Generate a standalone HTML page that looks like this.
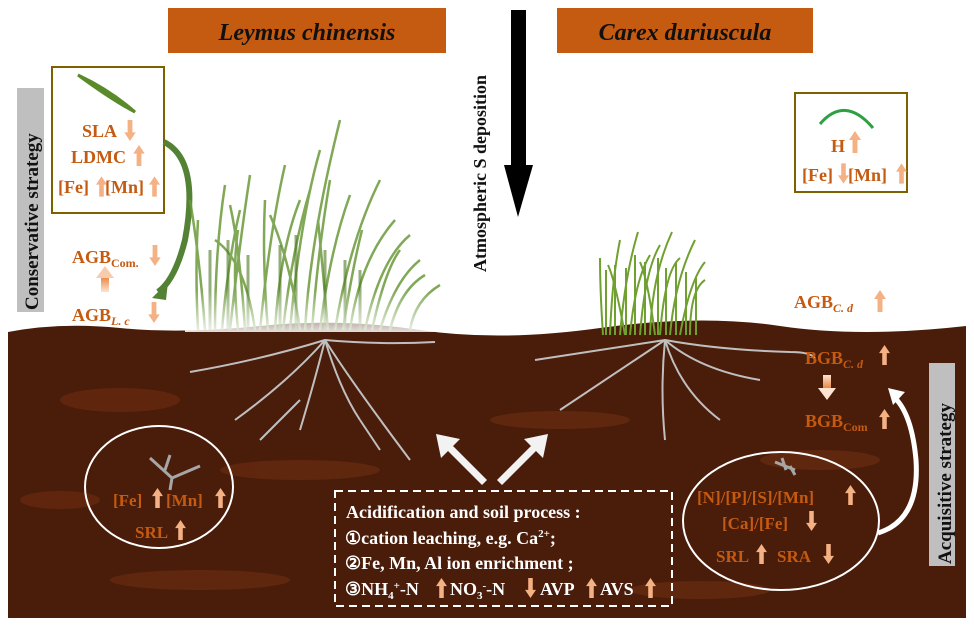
<!DOCTYPE html>
<html><head><meta charset="utf-8"><style>
body{margin:0;background:#fff;}
svg{display:block;font-family:"Liberation Serif",serif;font-weight:bold;}
.o{fill:#c55a11;}
</style></head><body>
<svg width="974" height="628" viewBox="0 0 974 628" xmlns="http://www.w3.org/2000/svg">
<defs>
<symbol id="up" viewBox="0 0 12 22"><path d="M6 0 L12 9 H8.5 V22 H3.5 V9 H0Z" fill="#f4b183"/></symbol>
<symbol id="dn" viewBox="0 0 12 22"><path d="M6 22 L12 13 H8.5 V0 H3.5 V13 H0Z" fill="#f4b183"/></symbol>
<linearGradient id="g1" x1="0" y1="0" x2="0" y2="1"><stop offset="0" stop-color="#fde3d2"/><stop offset="1" stop-color="#e8803a"/></linearGradient>
<linearGradient id="g2" x1="0" y1="0" x2="0" y2="1"><stop offset="0" stop-color="#e8803a"/><stop offset="1" stop-color="#fde3d2"/></linearGradient>
<linearGradient id="fog" x1="0" y1="0" x2="0" y2="1"><stop offset="0" stop-color="#fff" stop-opacity="0"/><stop offset="1" stop-color="#fff" stop-opacity="0.85"/></linearGradient>
</defs>
<!-- soil -->
<path d="M8 332 Q60 322 120 328 T260 326 T420 330 T600 328 T780 326 T966 326 V618 H8Z" fill="#4a1c0a"/>
<g fill="#6e2e10" opacity="0.6">
<ellipse cx="120" cy="400" rx="60" ry="12"/><ellipse cx="300" cy="470" rx="80" ry="10"/><ellipse cx="560" cy="420" rx="70" ry="9"/><ellipse cx="820" cy="460" rx="60" ry="10"/><ellipse cx="200" cy="580" rx="90" ry="10"/><ellipse cx="700" cy="590" rx="70" ry="9"/><ellipse cx="60" cy="500" rx="40" ry="9"/>
</g>
<!-- title boxes -->
<rect x="168" y="8" width="278" height="45" fill="#c55a11"/>
<text x="307" y="40" font-size="24" font-style="italic" text-anchor="middle" fill="#111">Leymus chinensis</text>
<rect x="557" y="8" width="256" height="45" fill="#c55a11"/>
<text x="685" y="40" font-size="24" font-style="italic" text-anchor="middle" fill="#111">Carex duriuscula</text>
<!-- deposition arrow -->
<rect x="511" y="10" width="15" height="156" fill="#000"/>
<path d="M504 165 H533 L518 217Z" fill="#000"/>
<text transform="translate(486,272) rotate(-90)" font-size="18" fill="#111">Atmospheric S deposition</text>
<!-- left strategy label -->
<rect x="17" y="88" width="27" height="224" fill="#bfbfbf"/>
<text transform="translate(38,310) rotate(-90)" font-size="19" fill="#111">Conservative strategy</text>
<!-- left box -->
<rect x="52" y="67" width="112" height="146" fill="#fff" stroke="#7f6000" stroke-width="2"/>
<path d="M78 75 Q110 90 135 112 Q112 100 78 75Z" fill="#5a8a2a" stroke="#5a8a2a" stroke-width="3"/>
<text x="82" y="137" font-size="18" class="o">SLA</text><use href="#dn" x="124" y="120" width="12" height="21"/>
<text x="71" y="163" font-size="18" class="o">LDMC</text><use href="#up" x="133" y="145" width="12" height="21"/>
<text x="58" y="193" font-size="18" class="o">[Fe]</text><use href="#up" x="96" y="176" width="11" height="21"/><text x="105" y="193" font-size="18" class="o">[Mn]</text><use href="#up" x="149" y="176" width="11" height="21"/>
<!-- green curved arrow -->
<path d="M164 142 Q200 160 185 240 Q175 280 158 292" fill="none" stroke="#548235" stroke-width="6"/>
<path d="M152 298 L168 282 L166 300Z" fill="#548235"/>
<text x="72" y="263" font-size="18" class="o">AGB<tspan font-size="12" dy="4">Com.</tspan></text><use href="#dn" x="149" y="245" width="12" height="21"/>
<rect x="101" y="276" width="8" height="16" fill="url(#g2)"/><path d="M96 278 L105 266 L114 278Z" fill="#f8cbad"/>
<text x="72" y="321" font-size="18" class="o">AGB<tspan font-size="12" dy="4" font-style="italic">L. c</tspan></text><use href="#dn" x="148" y="302" width="12" height="21"/>
<!-- grass left -->
<g stroke="#6a9a3a" stroke-width="2.5" fill="none" opacity="0.85">
<path d="M205 330 Q200 260 190 200"/><path d="M215 330 Q215 250 225 185"/><path d="M230 330 Q240 240 250 175"/><path d="M245 330 Q240 250 230 205"/><path d="M260 330 Q270 230 285 165"/><path d="M275 330 Q280 250 300 200"/><path d="M290 330 Q300 220 320 150"/><path d="M305 330 Q310 240 340 120"/><path d="M320 330 Q330 250 350 195"/><path d="M335 330 Q350 240 380 180"/><path d="M350 330 Q360 260 395 220"/><path d="M365 330 Q380 260 410 235"/><path d="M380 330 Q395 280 420 260"/><path d="M255 330 Q245 260 215 240"/><path d="M300 330 Q290 260 270 215"/>
<path d="M198 330 Q195 270 198 220"/><path d="M222 330 Q228 260 240 210"/><path d="M238 330 Q232 270 238 230"/><path d="M268 330 Q262 260 265 200"/><path d="M283 330 Q292 250 310 190"/><path d="M312 330 Q318 250 330 180"/><path d="M328 330 Q322 260 318 220"/><path d="M343 330 Q352 270 362 230"/><path d="M372 330 Q385 270 400 250"/><path d="M390 330 Q400 290 425 275"/><path d="M410 330 Q415 300 440 285"/>
</g>
<g stroke="#4c7a22" stroke-width="3" fill="none" opacity="0.6">
<path d="M210 330 V250"/><path d="M228 330 V240"/><path d="M248 330 V255"/><path d="M280 330 V245"/><path d="M296 330 V235"/><path d="M325 330 V250"/><path d="M345 330 V260"/><path d="M360 330 V270"/>
</g>
<rect x="185" y="290" width="265" height="42" fill="url(#fog)"/>
<!-- grass right -->
<g stroke="#70a030" stroke-width="2" fill="none">
<path d="M603 335 Q600 290 600 258"/><path d="M610 335 Q612 280 620 240"/><path d="M620 335 Q625 275 638 232"/><path d="M630 335 Q635 280 650 255"/><path d="M640 335 Q645 270 660 245"/><path d="M650 335 Q652 275 672 232"/><path d="M660 335 Q665 270 680 258"/><path d="M670 335 Q675 280 695 240"/><path d="M680 335 Q690 280 705 262"/><path d="M690 335 Q690 290 705 280"/><path d="M625 335 Q615 280 608 265"/><path d="M655 335 Q648 280 640 262"/>
<path d="M606 335 V270"/><path d="M615 335 V265"/><path d="M626 335 V268"/><path d="M635 335 V255"/><path d="M645 335 V262"/><path d="M658 335 V258"/><path d="M666 335 V268"/><path d="M676 335 V262"/><path d="M686 335 V272"/><path d="M696 335 V278"/>
</g>
<!-- roots -->
<g stroke="#bfbfbf" stroke-width="2" fill="none">
<path d="M190 372 Q260 360 325 340 Q380 345 435 342"/><path d="M325 340 Q315 380 300 430"/><path d="M325 340 Q340 390 360 420"/><path d="M325 340 Q350 380 410 460"/><path d="M325 340 Q290 380 235 420"/><path d="M300 400 L260 440"/><path d="M360 420 L380 450"/>
<path d="M535 360 Q600 350 665 340 Q720 350 790 352 Q810 352 815 358"/><path d="M665 340 Q620 370 560 410"/><path d="M665 340 Q680 390 720 420"/><path d="M665 340 Q660 390 665 440"/><path d="M665 340 Q700 370 760 380"/>
</g>
<!-- right box -->
<rect x="795" y="93" width="112" height="99" fill="#fff" stroke="#7f6000" stroke-width="2"/>
<path d="M820 124 Q845 95 873 128" fill="none" stroke="#2ea043" stroke-width="3"/>
<text x="831" y="152" font-size="18" class="o">H</text><use href="#up" x="849" y="131" width="12" height="22"/>
<text x="802" y="181" font-size="18" class="o">[Fe]</text><use href="#dn" x="838" y="163" width="11" height="21"/><text x="848" y="181" font-size="18" class="o">[Mn]</text><use href="#up" x="896" y="163" width="11" height="21"/>
<text x="794" y="308" font-size="18" class="o">AGB<tspan font-size="12" dy="4" font-style="italic">C. d</tspan></text><use href="#up" x="874" y="289" width="12" height="24"/>
<text x="805" y="364" font-size="18" class="o">BGB<tspan font-size="12" dy="4" font-style="italic">C. d</tspan></text><use href="#up" x="879" y="345" width="11" height="20"/>
<rect x="823" y="375" width="8" height="14" fill="url(#g1)"/><path d="M818 388 L827 400 L836 388Z" fill="#fde3d2"/>
<text x="805" y="427" font-size="18" class="o">BGB<tspan font-size="12" dy="4">Com</tspan></text><use href="#up" x="879" y="409" width="11" height="20"/>
<!-- acquisitive label -->
<rect x="929" y="363" width="26" height="203" fill="#bfbfbf"/>
<text transform="translate(951,564) rotate(-90)" font-size="19" fill="#111">Acquisitive strategy</text>
<!-- white curved arrow -->
<path d="M878 533 Q920 520 916 460 Q912 415 895 398" fill="none" stroke="#fff" stroke-width="5"/>
<path d="M888 388 L905 392 L893 405Z" fill="#fff"/>
<!-- right ellipse -->
<ellipse cx="781" cy="521" rx="98" ry="69" fill="none" stroke="#fff" stroke-width="2"/>
<path d="M775 462 L795 470 M782 458 L786 470 M790 466 L795 475" stroke="#a6a6a6" stroke-width="3"/>
<text x="697" y="503" font-size="17" class="o">[N]/[P]/[S]/[Mn]</text><use href="#up" x="845" y="485" width="11" height="20"/>
<text x="722" y="529" font-size="17" class="o">[Ca]/[Fe]</text><use href="#dn" x="806" y="511" width="11" height="20"/>
<text x="716" y="562" font-size="17" class="o">SRL</text><use href="#up" x="756" y="544" width="11" height="20"/><text x="777" y="562" font-size="17" class="o">SRA</text><use href="#dn" x="823" y="544" width="11" height="20"/>
<!-- left ellipse -->
<ellipse cx="159" cy="487" rx="74" ry="61" fill="none" stroke="#fff" stroke-width="2"/>
<path d="M150 458 L172 478 L200 466 M165 470 L170 455 M172 478 L170 490" stroke="#a6a6a6" stroke-width="3" fill="none"/>
<text x="113" y="506" font-size="17" class="o">[Fe]</text><use href="#up" x="152" y="488" width="11" height="20"/><text x="166" y="506" font-size="17" class="o">[Mn]</text><use href="#up" x="215" y="488" width="11" height="20"/>
<text x="135" y="538" font-size="17" class="o">SRL</text><use href="#up" x="175" y="520" width="11" height="20"/>
<!-- white arrows -->
<path d="M482 485 L448 451 L441 458 L436 434 L460 439 L453 446 L487 480Z" fill="#f2f2f2"/>
<path d="M502 485 L536 451 L543 458 L548 434 L524 439 L531 446 L497 480Z" fill="#f2f2f2"/>
<!-- dashed box -->
<rect x="335" y="491" width="337" height="115" fill="none" stroke="#fff" stroke-width="2" stroke-dasharray="8,5"/>
<g fill="#fff" font-size="18">
<text x="346" y="518">Acidification and soil process :</text>
<text x="345" y="544">①cation leaching, e.g. Ca<tspan font-size="11" dy="-7">2+</tspan><tspan dy="7">;</tspan></text>
<text x="345" y="569">②Fe, Mn, Al ion enrichment  ;</text>
<text x="345" y="595">③NH<tspan font-size="11" dy="4">4</tspan><tspan font-size="11" dy="-10">+</tspan><tspan dy="6">-N</tspan></text>
<text x="450" y="595">NO<tspan font-size="11" dy="4">3</tspan><tspan font-size="11" dy="-10">-</tspan><tspan dy="6">-N</tspan></text>
<text x="540" y="595">AVP</text><text x="600" y="595">AVS</text>
</g>
<use href="#up" x="436" y="578" width="11" height="20"/><use href="#dn" x="525" y="578" width="11" height="20"/><use href="#up" x="586" y="578" width="11" height="20"/><use href="#up" x="645" y="578" width="11" height="20"/>
</svg>
</body></html>
